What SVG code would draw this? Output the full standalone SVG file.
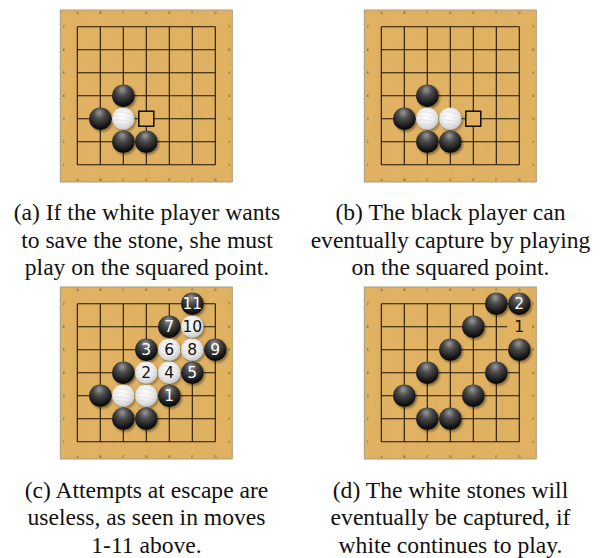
<svg xmlns="http://www.w3.org/2000/svg" xmlns:xlink="http://www.w3.org/1999/xlink" width="601" height="558" viewBox="0 0 601 558">
<style>
.frame{fill:#E1B262;stroke:#A39F7A;stroke-width:1}
.grain{fill:#E1B262}
.grid line{stroke:#1E150A;stroke-width:1.1}
.coord{font-family:"DejaVu Sans",sans-serif;font-size:3.4px;fill:#4A3618;text-anchor:middle}
.sq{fill:#E1B262;stroke:#000;stroke-width:1.4}
.patch{fill:#E1B262}
.lw{font-family:"DejaVu Sans",sans-serif;font-size:15.5px;fill:#fff;text-anchor:middle}
.lb{font-family:"DejaVu Sans",sans-serif;font-size:15.5px;fill:#111;text-anchor:middle}
.cap{font-family:"Liberation Serif","Times New Roman",serif;font-size:23.6px;fill:#111;text-anchor:middle}
</style>
<defs>
<radialGradient id="gb" cx="0.47" cy="0.32" r="0.72" fx="0.45" fy="0.22">
<stop offset="0" stop-color="#9a9a9a"/>
<stop offset="0.35" stop-color="#4c4c4c"/>
<stop offset="0.8" stop-color="#141414"/>
<stop offset="1" stop-color="#000"/>
</radialGradient>
<radialGradient id="gw" cx="0.45" cy="0.38" r="0.68">
<stop offset="0" stop-color="#ffffff"/>
<stop offset="0.55" stop-color="#ececec"/>
<stop offset="0.85" stop-color="#cfcfcf"/>
<stop offset="1" stop-color="#a9a9a9"/>
</radialGradient>
<filter id="blur" x="-50%" y="-50%" width="200%" height="200%"><feGaussianBlur stdDeviation="1"/></filter>
<filter id="grainf" x="0" y="0" width="100%" height="100%">
<feTurbulence type="fractalNoise" baseFrequency="0.14 0.006" numOctaves="2" seed="4" result="n"/>
<feColorMatrix in="n" type="matrix" values="0 0 0 0 0.55  0 0 0 0 0.36  0 0 0 0 0.12  0 0 0 0.4 -0.16" result="c"/>
<feComposite in="c" in2="SourceGraphic" operator="in"/>
</filter>
<clipPath id="wc"><circle cx="0" cy="0" r="11"/></clipPath>
<g id="bs">
<circle cx="1.6" cy="1.8" r="11.2" fill="#000" opacity="0.4" filter="url(#blur)"/>
<circle cx="0" cy="0" r="11.2" fill="url(#gb)"/>
</g>
<g id="ws">
<circle cx="1.6" cy="1.8" r="11.2" fill="#000" opacity="0.3" filter="url(#blur)"/>
<circle cx="0" cy="0" r="11.2" fill="url(#gw)"/>
<g clip-path="url(#wc)" stroke="#b8b8b8" stroke-width="0.5" fill="none" opacity="0.5">
<path d="M-12,-6 Q0,-9 12,-2"/><path d="M-12,-2 Q0,-5 12,2"/><path d="M-12,2 Q0,-1 12,6"/><path d="M-12,6 Q0,3 12,10"/><path d="M-12,-10 Q0,-13 12,-6"/>
</g>
</g>
<g id="board">
<rect class="frame" x="0" y="0" width="172" height="172"/>
<rect class="grain" x="0.5" y="0.5" width="171" height="171" filter="url(#grainf)"/>
<g class="grid">
<line x1="17" y1="16.7" x2="155" y2="16.7"/><line x1="17" y1="39.7" x2="155" y2="39.7"/><line x1="17" y1="62.7" x2="155" y2="62.7"/><line x1="17" y1="85.7" x2="155" y2="85.7"/><line x1="17" y1="108.7" x2="155" y2="108.7"/><line x1="17" y1="131.7" x2="155" y2="131.7"/><line x1="17" y1="154.7" x2="155" y2="154.7"/>
<line x1="17" y1="16.7" x2="17" y2="154.7"/><line x1="40" y1="16.7" x2="40" y2="154.7"/><line x1="63" y1="16.7" x2="63" y2="154.7"/><line x1="86" y1="16.7" x2="86" y2="154.7"/><line x1="109" y1="16.7" x2="109" y2="154.7"/><line x1="132" y1="16.7" x2="132" y2="154.7"/><line x1="155" y1="16.7" x2="155" y2="154.7"/>
</g>
<g class="coord">
<text x="17" y="4">A</text><text x="40" y="4">B</text><text x="63" y="4">C</text><text x="86" y="4">D</text><text x="109" y="4">E</text><text x="132" y="4">F</text><text x="155" y="4">G</text>
<text x="17" y="170.5">A</text><text x="40" y="170.5">B</text><text x="63" y="170.5">C</text><text x="86" y="170.5">D</text><text x="109" y="170.5">E</text><text x="132" y="170.5">F</text><text x="155" y="170.5">G</text>
<text x="3.2" y="18">7</text><text x="3.2" y="41">6</text><text x="3.2" y="64">5</text><text x="3.2" y="87">4</text><text x="3.2" y="110">3</text><text x="3.2" y="133">2</text><text x="3.2" y="156">1</text>
<text x="168.7" y="18">7</text><text x="168.7" y="41">6</text><text x="168.7" y="64">5</text><text x="168.7" y="87">4</text><text x="168.7" y="110">3</text><text x="168.7" y="133">2</text><text x="168.7" y="156">1</text>
</g>
</g>
</defs>

<g id="diagram-a" transform="translate(60.3,10)">
<use xlink:href="#board"/>
<rect class="sq" x="78.5" y="101.2" width="15" height="15"/>
<use xlink:href="#bs" x="63" y="85.7"/>
<use xlink:href="#bs" x="40" y="108.7"/>
<use xlink:href="#ws" x="63" y="108.7"/>
<use xlink:href="#bs" x="63" y="131.7"/>
<use xlink:href="#bs" x="86" y="131.7"/>
</g>

<g id="diagram-b" transform="translate(364.3,10)">
<use xlink:href="#board"/>
<rect class="sq" x="101.5" y="101.2" width="15" height="15"/>
<use xlink:href="#bs" x="63" y="85.7"/>
<use xlink:href="#bs" x="40" y="108.7"/>
<use xlink:href="#ws" x="63" y="108.7"/>
<use xlink:href="#ws" x="86" y="108.7"/>
<use xlink:href="#bs" x="63" y="131.7"/>
<use xlink:href="#bs" x="86" y="131.7"/>
</g>

<g id="diagram-c" transform="translate(60.3,287)">
<use xlink:href="#board"/>
<use xlink:href="#bs" x="132" y="16.7"/>
<use xlink:href="#bs" x="109" y="39.7"/>
<use xlink:href="#ws" x="132" y="39.7"/>
<use xlink:href="#bs" x="86" y="62.7"/>
<use xlink:href="#ws" x="109" y="62.7"/>
<use xlink:href="#ws" x="132" y="62.7"/>
<use xlink:href="#bs" x="155" y="62.7"/>
<use xlink:href="#bs" x="63" y="85.7"/>
<use xlink:href="#ws" x="86" y="85.7"/>
<use xlink:href="#ws" x="109" y="85.7"/>
<use xlink:href="#bs" x="132" y="85.7"/>
<use xlink:href="#bs" x="40" y="108.7"/>
<use xlink:href="#ws" x="63" y="108.7"/>
<use xlink:href="#ws" x="86" y="108.7"/>
<use xlink:href="#bs" x="109" y="108.7"/>
<use xlink:href="#bs" x="63" y="131.7"/>
<use xlink:href="#bs" x="86" y="131.7"/>
<text class="lw" x="132" y="22.3">11</text>
<text class="lw" x="109" y="45.3">7</text>
<text class="lb" x="132" y="45.3">10</text>
<text class="lw" x="86" y="68.3">3</text>
<text class="lb" x="109" y="68.3">6</text>
<text class="lb" x="132" y="68.3">8</text>
<text class="lw" x="155" y="68.3">9</text>
<text class="lb" x="86" y="91.3">2</text>
<text class="lb" x="109" y="91.3">4</text>
<text class="lw" x="132" y="91.3">5</text>
<text class="lw" x="109" y="114.3">1</text>
</g>

<g id="diagram-d" transform="translate(364.3,287)">
<use xlink:href="#board"/>
<rect class="patch" x="143" y="27.7" width="24" height="24"/>
<use xlink:href="#bs" x="132" y="16.7"/>
<use xlink:href="#bs" x="155" y="16.7"/>
<use xlink:href="#bs" x="109" y="39.7"/>
<use xlink:href="#bs" x="86" y="62.7"/>
<use xlink:href="#bs" x="155" y="62.7"/>
<use xlink:href="#bs" x="63" y="85.7"/>
<use xlink:href="#bs" x="132" y="85.7"/>
<use xlink:href="#bs" x="40" y="108.7"/>
<use xlink:href="#bs" x="109" y="108.7"/>
<use xlink:href="#bs" x="63" y="131.7"/>
<use xlink:href="#bs" x="86" y="131.7"/>
<text class="lw" x="155" y="22.3">2</text>
<text class="lb" x="155" y="45.3">1</text>
</g>

<g id="captions" class="cap">
<text x="147" y="220">(a) If the white player wants</text>
<text x="147" y="247.5">to save the stone, she must</text>
<text x="147" y="275">play on the squared point.</text>
<text x="450.5" y="220">(b) The black player can</text>
<text x="450.5" y="247.5">eventually capture by playing</text>
<text x="450.5" y="275">on the squared point.</text>
<text x="146.5" y="497.5">(c) Attempts at escape are</text>
<text x="146.5" y="525">useless, as seen in moves</text>
<text x="146.5" y="552.5">1-11 above.</text>
<text x="450.5" y="497.5">(d) The white stones will</text>
<text x="450.5" y="525">eventually be captured, if</text>
<text x="450.5" y="552.5">white continues to play.</text>
</g>
</svg>
